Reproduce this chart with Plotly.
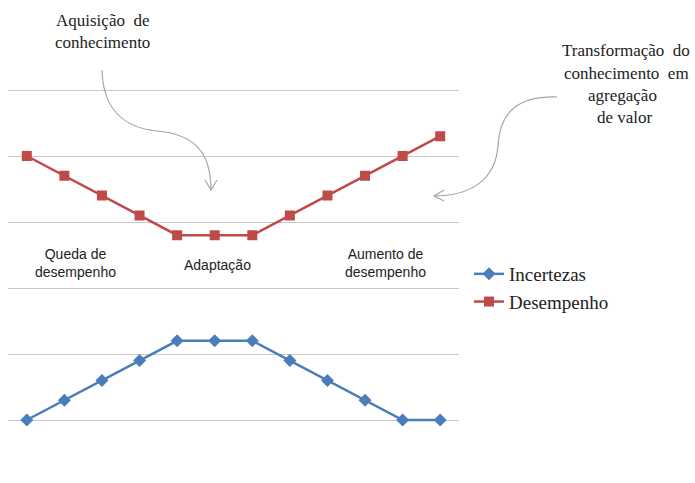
import plotly.graph_objects as go

W, H = 695, 483

categories = list(range(1, 13))
incertezas = [0, 0.3, 0.6, 0.9, 1.2, 1.2, 1.2, 0.9, 0.6, 0.3, 0, 0]
desempenho = [4.0, 3.7, 3.4, 3.1, 2.8, 2.8, 2.8, 3.1, 3.4, 3.7, 4.0, 4.3]

phase_labels = ["Queda de<br>desempenho", "Adaptação", "Aumento de<br>desempenho"]
note_left = ["Aquisição  de", "conhecimento"]
note_right = ["Transformação  do", "conhecimento  em", "agregação", "de valor"]


def px(x, y):
    return x / W, 1 - y / H


def path(points_cmd):
    out = []
    for tok in points_cmd:
        if isinstance(tok, str):
            out.append(tok)
        else:
            a, b = px(*tok)
            out.append(f"{a:.5f},{b:.5f}")
    return " ".join(out)


fig = go.Figure()
fig.add_trace(go.Scatter(
    x=categories, y=incertezas, name="Incertezas", mode="lines+markers",
    line=dict(color="#4a7ebb", width=2.5),
    marker=dict(symbol="diamond", size=10, color="#4a7ebb"),
))
fig.add_trace(go.Scatter(
    x=categories, y=desempenho, name="Desempenho", mode="lines+markers",
    line=dict(color="#be4b48", width=2.5),
    marker=dict(symbol="square", size=10, color="#be4b48"),
))

# plot area geometry (pixels)
x0, x1 = 8, 459
ybot, ytop = 426.6, 83.4

fig.update_layout(
    width=W, height=H,
    margin=dict(l=0, r=0, t=0, b=0),
    paper_bgcolor="white", plot_bgcolor="white",
    xaxis=dict(domain=[x0 / W, x1 / W], range=[0.5, 12.5], showticklabels=False,
               showgrid=False, zeroline=False, showline=False, ticks=""),
    yaxis=dict(domain=[1 - ybot / H, 1 - ytop / H], range=[-0.1, 5.1], dtick=1, tick0=0,
               showticklabels=False, showgrid=True, gridcolor="#c8c8c8", gridwidth=1,
               zeroline=False, showline=False, ticks=""),
    showlegend=True,
    legend=dict(x=469 / W, xanchor="left", y=1 - 255 / H, yanchor="top",
                font=dict(family="Liberation Serif", size=19, color="#222"),
                bgcolor="rgba(0,0,0,0)", tracegroupgap=7),
    font=dict(family="Liberation Sans"),
)

annotations = []
# phase labels
for txt, (cx, cy) in zip(phase_labels, [(75, 263), (217, 265), (385, 263)]):
    a, b = px(cx, cy)
    annotations.append(dict(x=a, y=b, xref="paper", yref="paper", text=txt, showarrow=False,
                            font=dict(family="Liberation Sans", size=14, color="#222"),
                            xanchor="center", yanchor="middle"))
for txt, (cx, cy) in zip(note_left, [(102, 20), (102, 43)]):
    a, b = px(cx, cy)
    annotations.append(dict(x=a, y=b, xref="paper", yref="paper", text=txt, showarrow=False,
                            font=dict(family="Liberation Serif", size=17, color="#222"),
                            xanchor="center", yanchor="middle"))
for txt, (cx, cy) in zip(note_right, [(626, 50), (626, 73), (622, 95), (625, 117)]):
    a, b = px(cx, cy)
    annotations.append(dict(x=a, y=b, xref="paper", yref="paper", text=txt, showarrow=False,
                            font=dict(family="Liberation Serif", size=17, color="#222"),
                            xanchor="center", yanchor="middle"))
fig.update_layout(annotations=annotations)

arrow_color = "#a6a6a6"
shapes = [
    dict(type="path", xref="paper", yref="paper", layer="above",
         path=path(["M", (102, 70), "C", (103, 110), (125, 128), (157, 131),
                    "C", (192, 134), (211, 150), (211, 190)]),
         line=dict(color=arrow_color, width=1.2)),
    dict(type="path", xref="paper", yref="paper", layer="above",
         path=path(["M", (205, 180), "L", (211, 190), "L", (217, 180)]),
         line=dict(color=arrow_color, width=1.2)),
    dict(type="path", xref="paper", yref="paper", layer="above",
         path=path(["M", (557, 97), "C", (518, 96), (500, 112), (498, 145),
                    "C", (496, 180), (470, 196), (434, 196)]),
         line=dict(color=arrow_color, width=1.2)),
    dict(type="path", xref="paper", yref="paper", layer="above",
         path=path(["M", (444, 190), "L", (434, 196), "L", (444, 201)]),
         line=dict(color=arrow_color, width=1.2)),
]
fig.update_layout(shapes=shapes)

fig.write_html("out.html")
